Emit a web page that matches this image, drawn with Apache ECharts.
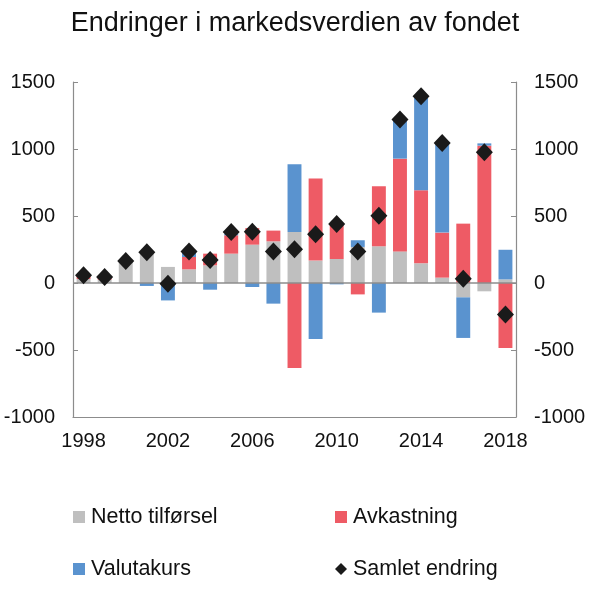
<!DOCTYPE html>
<html lang="no">
<head>
    <meta charset="UTF-8">
    <title>Endringer i markedsverdien av fondet</title>
    <script src="https://cdn.jsdelivr.net/npm/echarts@6/dist/echarts.min.js"></script>
    <style>
        html, body { margin: 0; padding: 0; background: #fff; }
    </style>
</head>
<body>
    <div id="main" style="width: 590px;height:589px;"></div>
    <script type="text/javascript">
        // data, mrd. kroner, lest av figuren
        var years = ['1998', '1999', '2000', '2001', '2002', '2003', '2004', '2005', '2006', '2007', '2008',
                     '2009', '2010', '2011', '2012', '2013', '2014', '2015', '2016', '2017', '2018'];
        var netto = [30, 25, 160, 225, 120, 102, 132, 219, 286, 311, 381,
                     167, 179, 269, 274, 236, 147, 40, -107, -62, 27];
        var avkastning = [25, 20, 5, 5, 0, 92, 87, 137, 124, 80, -634,
                          612, 256, -85, 448, 692, 545, 336, 443, 1025, -485];
        var valutakurs = [0, 0, 0, -22, -130, 30, -50, 12, -30, -154, 505,
                          -418, -10, 50, -221, 299, 697, 664, -303, 17, 221];
        var samlet = [57, 45, 164, 229, -5, 236, 172, 380, 383, 236, 251,
                      363, 440, 236, 502, 1221, 1393, 1045, 32, 975, -236];
        var yTicks = [-1000, -500, 0, 500, 1000, 1500];

        var font = 'Liberation Sans, Arial, sans-serif';
        var myChart = echarts.init(document.getElementById('main'));

        var yAxisBase = {
            type: 'value',
            min: yTicks[0],
            max: yTicks[yTicks.length - 1],
            interval: 500,
            axisLine: { show: true, lineStyle: { color: '#8c8c8c', width: 1.2 } },
            axisTick: { show: true, inside: true, length: 5, lineStyle: { color: '#8c8c8c' } },
            splitLine: { show: false },
            axisLabel: {
                color: '#111', fontSize: 20, fontFamily: font, margin: 18,
                formatter: function (v) { return String(v); }
            }
        };

        // ett legend-element per plass, to kolonner
        function legendItem(name, left, top, icon) {
            return {
                data: [name],
                left: left,
                top: top,
                icon: icon,
                itemWidth: 12,
                itemHeight: 12,
                selectedMode: false,
                textStyle: { fontSize: 21.5, color: '#111', fontFamily: font, padding: [0, 0, 0, 1] }
            };
        }

        var option = {
            animation: false,
            backgroundColor: '#fff',
            color: ['#bfbfbf', '#ee5b65', '#5a93cf', '#1a1a1a'],
            title: {
                text: 'Endringer i markedsverdien av fondet',
                left: 'center',
                top: 5,
                textStyle: { fontSize: 27, fontWeight: 'normal', color: '#111', fontFamily: font }
            },
            legend: [
                legendItem('Netto tilførsel', 68, 501, 'rect'),
                legendItem('Avkastning', 330, 501, 'rect'),
                legendItem('Valutakurs', 68, 553, 'rect'),
                legendItem('Samlet endring', 330, 553, 'diamond')
            ],
            grid: { left: 73, right: 74, top: 82, bottom: 172 },
            xAxis: {
                type: 'category',
                data: years,
                axisLine: { show: true, onZero: false, lineStyle: { color: '#8c8c8c', width: 1.2 } },
                axisTick: { show: false },
                axisLabel: {
                    color: '#111', fontSize: 20, fontFamily: font, margin: 14,
                    interval: function (i) { return i % 4 === 0; }
                }
            },
            yAxis: [
                Object.assign({}, yAxisBase, { position: 'left' }),
                Object.assign({}, yAxisBase, { position: 'right' })
            ],
            series: [
                {
                    name: 'Netto tilførsel', type: 'bar', stack: 'sum', data: netto,
                    barWidth: '66%',
                    markLine: {
                        silent: true, symbol: 'none', label: { show: false },
                        lineStyle: { color: '#8c8c8c', type: 'solid', width: 1.5 },
                        data: [{ yAxis: 0 }]
                    }
                },
                { name: 'Avkastning', type: 'bar', stack: 'sum', data: avkastning, barWidth: '66%' },
                { name: 'Valutakurs', type: 'bar', stack: 'sum', data: valutakurs, barWidth: '66%' },
                {
                    name: 'Samlet endring', type: 'scatter', data: samlet,
                    symbol: 'diamond', symbolSize: [17, 18], z: 5,
                    itemStyle: { opacity: 1, color: '#1a1a1a' }
                }
            ]
        };

        myChart.setOption(option);
    </script>
</body>
</html>
